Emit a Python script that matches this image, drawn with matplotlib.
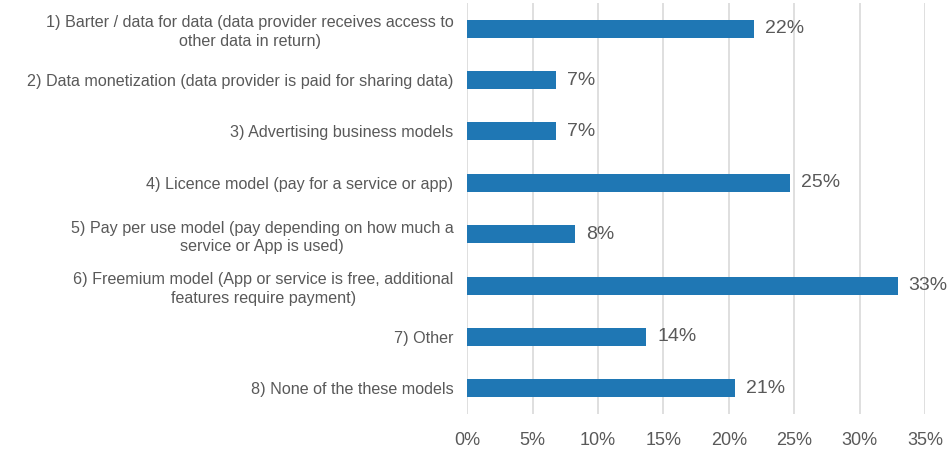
import matplotlib
matplotlib.use("Agg")
import matplotlib.pyplot as plt

categories = [
    "1) Barter / data for data (data provider receives access to\nother data in return)",
    "2) Data monetization (data provider is paid for sharing data)",
    "3) Advertising business models",
    "4) Licence model (pay for a service or app)",
    "5) Pay per use model (pay depending on how much a\nservice or App is used)",
    "6) Freemium model (App or service is free, additional\nfeatures require payment)",
    "7) Other",
    "8) None of the these models",
]
values = [21.9, 6.8, 6.8, 24.7, 8.2, 32.9, 13.7, 20.5]
value_labels = ["22%", "7%", "7%", "25%", "8%", "33%", "14%", "21%"]
xticks = [0, 5, 10, 15, 20, 25, 30, 35]

plt.rcParams['font.family'] = ['Liberation Sans', 'DejaVu Sans']
text_color = '#595959'
bar_color = '#1F77B4'
grid_color = '#D9D9D9'

fig = plt.figure(figsize=(9.5, 4.5), dpi=100)
W, H = 950, 450
left, right, top, bottom = 467.3, 925.0, 3, 414
ax = fig.add_axes([left / W, 1 - bottom / H, (right - left) / W, (bottom - top) / H])

y = list(range(len(categories)))
ax.barh(y, values, height=0.35, color=bar_color, zorder=3)
for yi, v, lab in zip(y, values, value_labels):
    ax.text(v + 0.85, yi, lab, va='center', ha='left', fontsize=14, color=text_color)

ax.set_xlim(0, 35)
ax.set_ylim(len(categories) - 0.5, -0.5)
ax.set_yticks(y)
ax.set_yticklabels(categories, fontsize=11.6, color=text_color,
                   multialignment='center', linespacing=1.3)
ax.set_xticks(xticks)
ax.set_xticklabels([f"{t}%" for t in xticks], fontsize=13, color=text_color)
ax.tick_params(axis='y', length=0, pad=10)
ax.tick_params(axis='x', length=0, pad=13)
ax.grid(axis='x', color=grid_color, linewidth=1.2, zorder=0)
for s in ax.spines.values():
    s.set_visible(False)

fig.savefig("out.png", dpi=100)
